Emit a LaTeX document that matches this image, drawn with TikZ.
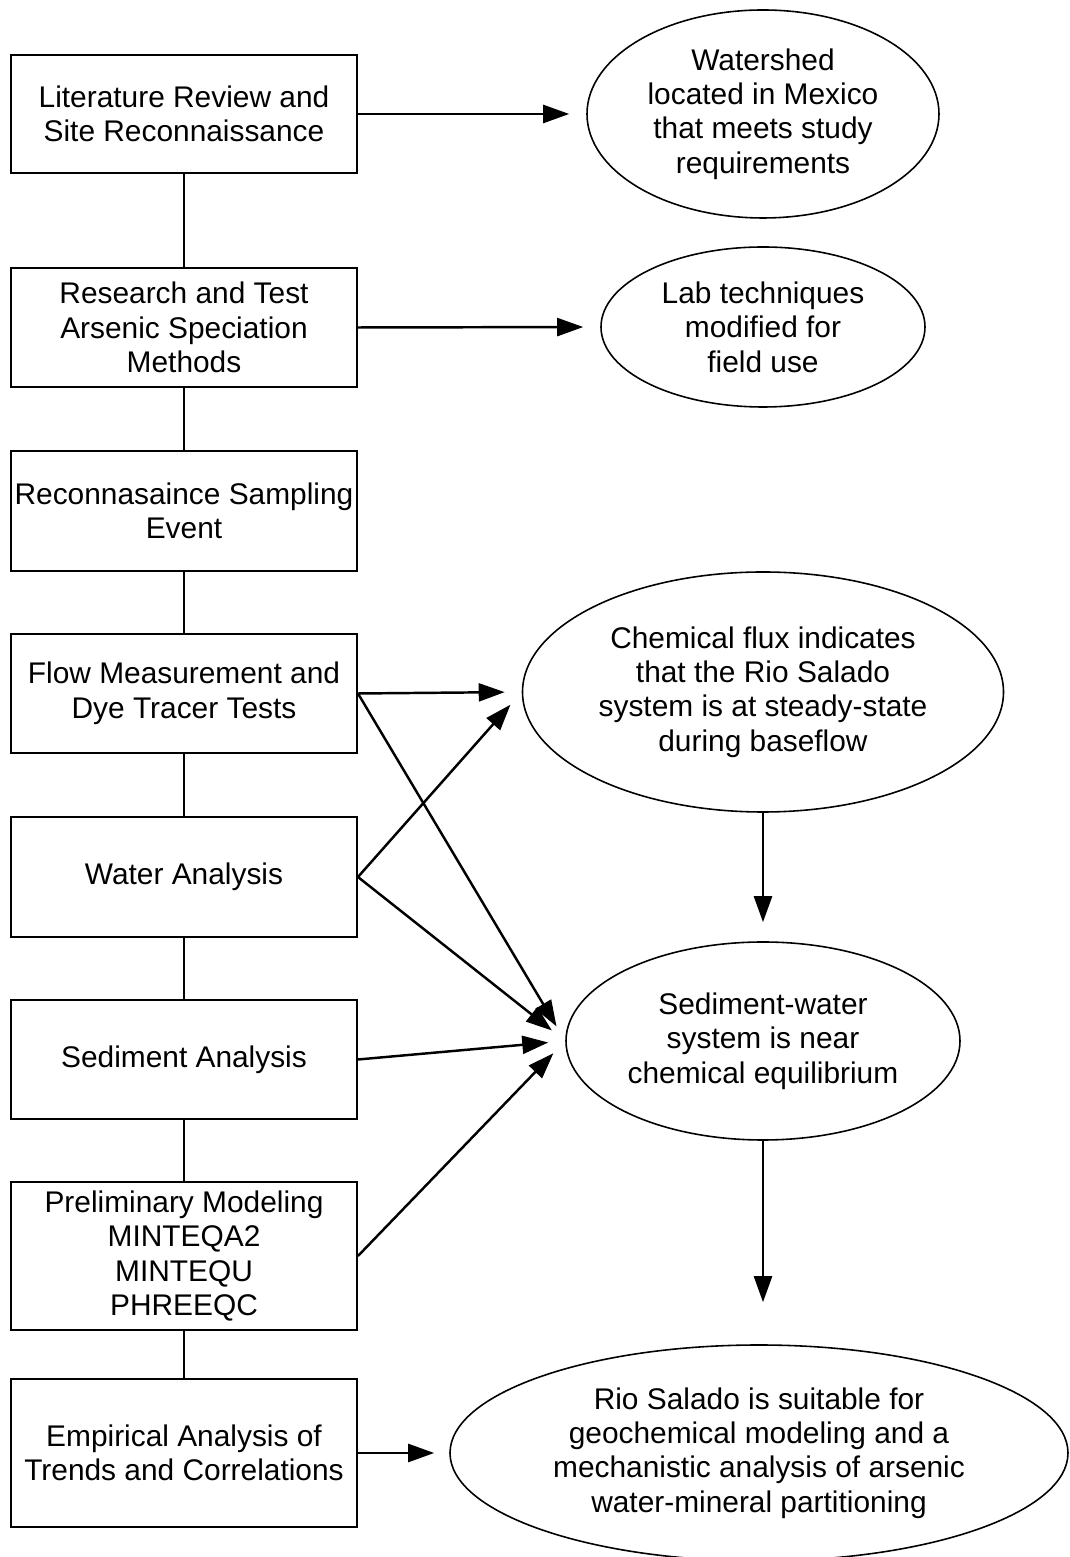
\documentclass[tikz,border=0pt]{standalone}
\usepackage{fontspec}
\setmainfont{Liberation Sans}
\usetikzlibrary{arrows.meta}
\usetikzlibrary{shapes.geometric}

\begin{document}
\begin{tikzpicture}[
    stage/.style={draw, line width=1.1pt, rectangle, minimum width=6.92cm,
        inner sep=1pt, align=center, font=\fontsize{17}{19.6}\selectfont},
    outcome/.style={draw, line width=0.9pt, ellipse, inner sep=0pt,
        align=center, font=\fontsize{17}{19.6}\selectfont},
    result/.style={-{Triangle[length=5.2mm,width=3.6mm]}, line width=1.4pt,
        shorten >=3.4mm},
    link/.style={line width=1.1pt}
]
\useasboundingbox (0,0) rectangle (21.4,31.14);

% work steps
\node[stage, minimum height=2.36cm] at (3.68, 28.86) (litreview)
    {Literature Review and\\Site Reconnaissance};
\node[stage, minimum height=2.38cm] at (3.68, 24.59) (speciation)
    {Research and Test\\Arsenic Speciation\\Methods};
\node[stage, minimum height=2.4cm] at (3.68, 20.92) (reconsampling)
    {Reconnasaince Sampling\\Event};
\node[stage, minimum height=2.38cm] at (3.68, 17.27) (flowdye)
    {Flow Measurement and\\Dye Tracer Tests};
\node[stage, minimum height=2.4cm] at (3.68, 13.6) (water)
    {Water Analysis};
\node[stage, minimum height=2.38cm] at (3.68, 9.95) (sediment)
    {Sediment Analysis};
\node[stage, minimum height=2.96cm] at (3.68, 6.02) (modeling)
    {Preliminary Modeling\\MINTEQA2\\MINTEQU\\PHREEQC};
\node[stage, minimum height=2.96cm] at (3.68, 2.08) (empirical)
    {Empirical Analysis of\\Trends and Correlations};

% findings
\node[outcome, minimum width=7.04cm, minimum height=4.16cm] at (15.26, 28.86) (watershed)
    {Watershed\\located in Mexico\\that meets study\\requirements};
\node[outcome, minimum width=6.48cm, minimum height=3.2cm] at (15.26, 24.6) (labtech)
    {Lab techniques\\modified for\\field use};
\node[outcome, minimum width=9.62cm, minimum height=4.8cm] at (15.26, 17.3) (flux)
    {Chemical flux indicates\\that the Rio Salado\\system is at steady-state\\during baseflow};
\node[outcome, minimum width=7.88cm, minimum height=3.96cm] at (15.26, 10.32) (equilib)
    {Sediment-water\\system is near\\chemical equilibrium};
\node[outcome, minimum width=12.36cm, minimum height=4.32cm] at (15.18, 2.08) (suitable)
    {Rio Salado is suitable for\\geochemical modeling and a\\mechanistic analysis of arsenic\\water-mineral partitioning};

% column links
\draw[link] (litreview) -- (speciation);
\draw[link] (speciation) -- (reconsampling);
\draw[link] (reconsampling) -- (flowdye);
\draw[link] (flowdye) -- (water);
\draw[link] (water) -- (sediment);
\draw[link] (sediment) -- (modeling);
\draw[link] (modeling) -- (empirical);

% arrows to findings
\draw[result] (litreview.east) -- (watershed.west);
\draw[result] (speciation.east) -- (labtech.west);
\draw[result] (flowdye.east) -- (flux.west);
\draw[result] (water.east) -- (flux.west);
\draw[result] (flowdye.east) -- (equilib.west);
\draw[result] (water.east) -- (equilib.west);
\draw[result] (sediment.east) -- (equilib.west);
\draw[result] (modeling.east) -- (equilib.west);
\draw[result, shorten >=3.8mm] (flux.south) -- (equilib.north);
\draw[result, shorten >=8.4mm] (equilib.south) -- (equilib.south |- suitable.north);
\draw[result, shorten >=3mm] (empirical.east) -- (suitable.west);
\end{tikzpicture}
\end{document}
